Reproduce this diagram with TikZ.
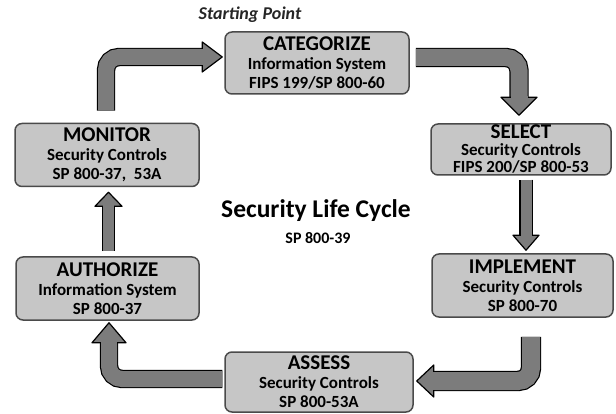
\documentclass[tikz,border=0pt]{standalone}
\usepackage{fontspec}
\setmainfont{Carlito}
\usetikzlibrary{calc}
\definecolor{boxfill}{HTML}{C6C6C6}
\definecolor{boxline}{HTML}{4A4A4A}
\definecolor{arrowfill}{HTML}{7C7C7C}
\newcommand{\bhead}[4]{%
  \fill[arrowfill,draw=black,line width=1.2pt,line join=round] ($(#1)!#3!90:(#2)$) -- (#2) -- ($(#1)!#3!-90:(#2)$) -- cycle;
  \draw[arrowfill,line width=#4] ($(#1)!-1pt!(#2)$) -- ($(#1)!1.5pt!(#2)$);
}
\newcommand{\ttl}[1]{{\fontsize{21}{19}\selectfont #1}}
\tikzset{
  box/.style={draw=boxline, line width=1.5pt, fill=boxfill, rounded corners=7pt,
    align=center, inner sep=0pt, font=\fontsize{17}{19}\selectfont\bfseries},
  shaft/.style={double=arrowfill, line width=1.2pt, rounded corners=13pt, draw=black}
}
\begin{document}
\begin{tikzpicture}[x=1pt,y=-1pt]
\useasboundingbox (0,0) rectangle (616,414);
\fill[white] (0,0) rectangle (616,414);

\node[box, minimum width=184pt, minimum height=62pt] (cat) at (317,63)
  {\ttl{CATEGORIZE}\\Information System\\FIPS 199/SP 800-60};
\node[box, minimum width=180pt, minimum height=51pt, font=\fontsize{17}{17}\selectfont\bfseries] (sel) at (521,149.5)
  {{\fontsize{21}{17}\selectfont SELECT}\\Security Controls\\FIPS 200/SP 800-53};
\node[box, minimum width=181pt, minimum height=63pt] (imp) at (522.5,285.5)
  {\ttl{IMPLEMENT}\\Security Controls\\SP 800-70};
\node[box, minimum width=188pt, minimum height=60pt] (ass) at (319,382)
  {\ttl{ASSESS}\\Security Controls\\SP 800-53A};
\node[box, minimum width=183pt, minimum height=63pt] (aut) at (107.5,288.5)
  {\ttl{AUTHORIZE}\\Information System\\SP 800-37};
\node[box, minimum width=184pt, minimum height=63pt] (mon) at (107,155)
  {\ttl{MONITOR}\\Security Controls\\SP 800-37,\ \ 53A};

\node[font=\fontsize{18}{18}\selectfont\bfseries\itshape, text=black!85] (start) at (250,15) {Starting Point};
\node[font=\fontsize{25.5}{25.5}\selectfont\bfseries] (slc) at (316,211) {Security Life Cycle};
\node[font=\fontsize{16}{16}\selectfont\bfseries] (sp39) at (318,238) {SP 800-39};

% arrow 1: monitor -> categorize
\coordinate (s1) at ($(mon.north)+(-1,-12)$);
\coordinate (t1) at ($(cat.west)+(-2,-6)$);
\coordinate (b1) at ($(t1)+(-20,0)$);
\draw[shaft, double distance=16pt] (s1) |- (b1);
\bhead{b1}{t1}{15pt}{16pt}

% arrow 2: categorize -> select
\coordinate (s2) at ($(cat.east)+(6,-5.5)$);
\coordinate (t2) at ($(sel.north)+(-2,-8)$);
\coordinate (b2) at ($(t2)+(0,-18)$);
\draw[shaft, double distance=17pt] (s2) -| (b2);
\bhead{b2}{t2}{18pt}{17pt}

% arrow 3: select -> implement
\coordinate (s3) at ($(sel.south)+(5,4)$);
\coordinate (t3) at ($(imp.north)+(3.5,-3)$);
\coordinate (b3) at ($(t3)+(0,-15)$);
\draw[shaft, double distance=11pt] (s3) -- (b3);
\bhead{b3}{t3}{13pt}{11pt}

% arrow 4: implement -> assess
\coordinate (s4) at ($(imp.south)+(8.5,19)$);
\coordinate (t4) at ($(ass.east)+(3,-1)$);
\coordinate (b4) at ($(t4)+(17,0)$);
\draw[shaft, double distance=18pt] (s4) |- (b4);
\bhead{b4}{t4}{16pt}{18pt}

% arrow 5: assess -> authorize
\coordinate (s5) at ($(ass.west)+(-2,-3)$);
\coordinate (t5) at ($(aut.south)+(1.5,2)$);
\coordinate (b5) at ($(t5)+(0,20)$);
\draw[shaft, double distance=16pt] (s5) -| (b5);
\bhead{b5}{t5}{17pt}{16pt}

% arrow 6: authorize -> monitor
\coordinate (s6) at ($(aut.north)+(1,-5)$);
\coordinate (t6) at ($(mon.south)+(1.5,5)$);
\coordinate (b6) at ($(t6)+(0,14)$);
\draw[shaft, double distance=11pt] (s6) -- (b6);
\bhead{b6}{t6}{13.5pt}{11pt}
\end{tikzpicture}
\end{document}
